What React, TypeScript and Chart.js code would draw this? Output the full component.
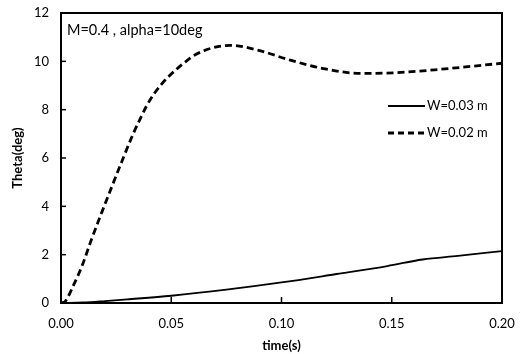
import React, { useEffect, useRef } from "react";
import { Chart, registerables } from "chart.js";

Chart.register(...registerables);

const timeDashed = [0, 0.002, 0.006, 0.0094, 0.0139, 0.0185, 0.023, 0.028, 0.0325, 0.0358, 0.0389, 0.042, 0.0449, 0.048, 0.0525, 0.057, 0.0615, 0.0706, 0.077, 0.089, 0.104, 0.119, 0.136, 0.152, 0.172, 0.2];
const thetaDashed = [0, 0.08, 0.8, 1.5, 2.65, 3.75, 4.8, 5.95, 6.95, 7.6, 8.17, 8.63, 8.98, 9.3, 9.68, 10.02, 10.3, 10.6, 10.66, 10.47, 10.05, 9.7, 9.5, 9.53, 9.67, 9.92];
const timeSolid = [0, 0.01, 0.02, 0.03, 0.05, 0.075, 0.1, 0.125, 0.148, 0.164, 0.18, 0.2];
const thetaSolid = [0, 0.02, 0.08, 0.15, 0.3, 0.55, 0.85, 1.2, 1.53, 1.8, 1.95, 2.15];
const seriesLabels = ["W=0.03 m", "W=0.02 m"];
const annotation = "M=0.4 , alpha=10deg";
const xTitle = "time(s)";
const yTitle = "Theta(deg)";

const FONT = "Lato, 'Open Sans', sans-serif";

const overlayPlugin = {
  id: "overlay",
  afterDraw(chart: any) {
    const { ctx, chartArea, scales } = chart;
    const xs = scales.x;
    const ys = scales.y;
    ctx.save();
    ctx.strokeStyle = "#000";
    ctx.lineWidth = 2;
    ctx.strokeRect(chartArea.left, chartArea.top, chartArea.right - chartArea.left, chartArea.bottom - chartArea.top);
    ctx.lineWidth = 1.5;
    ys.ticks.forEach((t: any) => {
      const y = ys.getPixelForValue(t.value);
      ctx.beginPath();
      ctx.moveTo(chartArea.left, y);
      ctx.lineTo(chartArea.left + 5, y);
      ctx.stroke();
    });
    xs.ticks.forEach((t: any) => {
      const x = xs.getPixelForValue(t.value);
      ctx.beginPath();
      ctx.moveTo(x, chartArea.bottom);
      ctx.lineTo(x, chartArea.bottom - 6);
      ctx.stroke();
    });
    ctx.fillStyle = "#000";
    ctx.font = "14.5px " + FONT;
    ctx.textBaseline = "middle";
    ctx.textAlign = "left";
    ctx.fillText(annotation, chartArea.left + 6, chartArea.top + 17);
    ctx.font = "13px " + FONT;
    const lx0 = chartArea.left + 327;
    const lx1 = lx0 + 37;
    const rows = [
      { y: chartArea.top + 93, dash: [], w: 1.8 },
      { y: chartArea.top + 120, dash: [6, 4], w: 2.8 },
    ];
    rows.forEach((r, i) => {
      ctx.beginPath();
      ctx.setLineDash(r.dash);
      ctx.lineWidth = r.w;
      ctx.moveTo(lx0, r.y);
      ctx.lineTo(lx1, r.y);
      ctx.stroke();
      ctx.setLineDash([]);
      ctx.fillText(seriesLabels[i], lx1 + 2, r.y);
    });
    ctx.restore();
  },
};

export default function App() {
  const ref = useRef<HTMLCanvasElement>(null);
  useEffect(() => {
    const canvas = ref.current!;
    const chart = new Chart(canvas, {
      type: "line",
      data: {
        datasets: [
          {
            label: seriesLabels[0],
            data: timeSolid.map((t, i) => ({ x: t, y: thetaSolid[i] })),
            borderColor: "#000",
            borderWidth: 1.8,
            pointRadius: 0,
            fill: false,
            cubicInterpolationMode: "monotone",
          },
          {
            label: seriesLabels[1],
            data: timeDashed.map((t, i) => ({ x: t, y: thetaDashed[i] })),
            borderColor: "#000",
            borderWidth: 2.8,
            borderDash: [7, 4],
            pointRadius: 0,
            fill: false,
            cubicInterpolationMode: "monotone",
          },
        ],
      },
      options: {
        animation: false,
        responsive: false,
        maintainAspectRatio: false,
        layout: { padding: { left: 0, right: 21, top: 13, bottom: 0 } },
        plugins: { legend: { display: false }, tooltip: { enabled: false } },
        scales: {
          x: {
            type: "linear",
            min: 0,
            max: 0.2,
            ticks: {
              stepSize: 0.05,
              color: "#000",
              font: { family: FONT, size: 13 },
              padding: 13,
              maxRotation: 0,
              callback: (v: any) => Number(v).toFixed(2),
            },
            grid: { display: false, drawTicks: false },
            border: { display: false },
            title: { display: true, text: xTitle, color: "#000", font: { family: FONT, size: 13, weight: "bold" }, padding: { top: 2, bottom: 0 } },
            afterFit: (s: any) => { s.height = 51; s.paddingLeft = 0; s.paddingRight = 0; },
          },
          y: {
            min: 0,
            max: 12,
            ticks: {
              stepSize: 2,
              color: "#000",
              font: { family: FONT, size: 13 },
              padding: 12,
            },
            grid: { display: false, drawTicks: false },
            border: { display: false },
            title: { display: true, text: yTitle, color: "#000", font: { family: FONT, size: 13, weight: "bold" }, padding: { top: 10, bottom: 4 } },
            afterFit: (s: any) => { s.width = 61; s.paddingTop = 0; s.paddingBottom = 0; },
          },
        },
      },
      plugins: [overlayPlugin],
    } as any);
    return () => chart.destroy();
  }, []);
  return (
    <div style={{ position: "fixed", left: 0, top: 0, width: 523, height: 354, background: "#fff" }}>
      <canvas ref={ref} width={523} height={354} style={{ width: 523, height: 354, display: "block" }} />
    </div>
  );
}
